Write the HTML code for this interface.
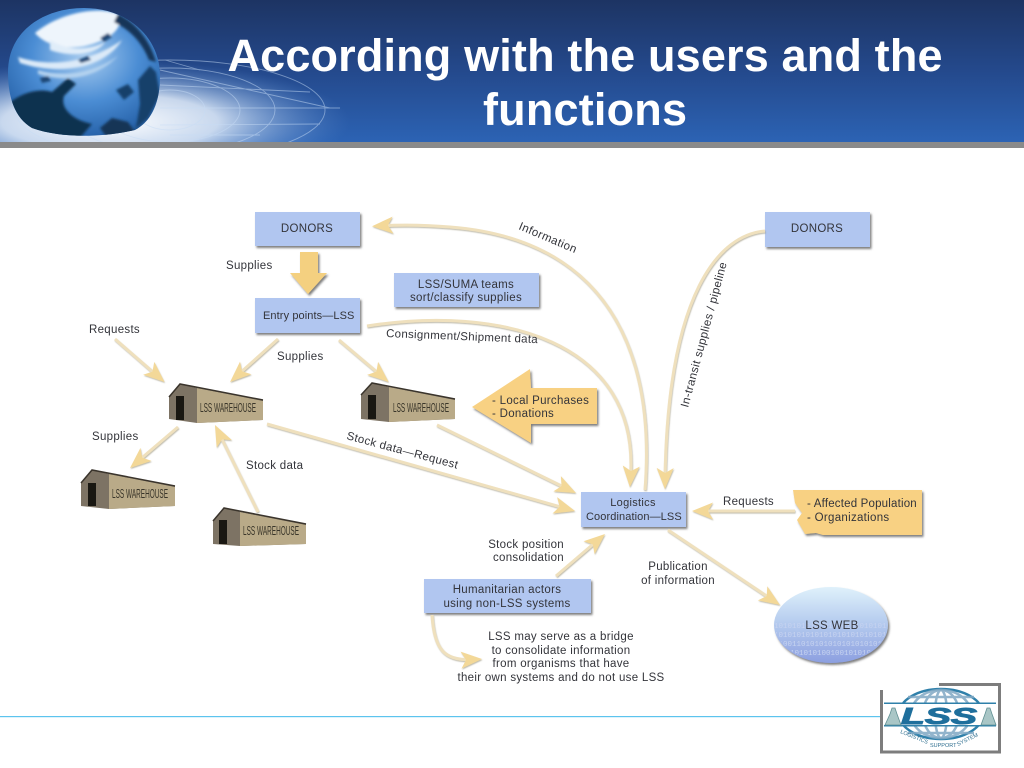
<!DOCTYPE html>
<html><head><meta charset="utf-8"><style>
html,body{margin:0;padding:0;background:#fff;width:1024px;height:768px;overflow:hidden}
svg{display:block}
text{font-family:"Liberation Sans",sans-serif}
.t{font-size:11.5px;fill:#33343a;letter-spacing:.3px}
.c{text-anchor:middle}
.w{font-size:12.5px;fill:#3a362a;text-anchor:middle}
.a path,.a line{fill:none;stroke:#efe0bd;stroke-width:3}
.h{font-size:45px;font-weight:bold;fill:#fff;text-anchor:middle}
</style></head><body>
<svg width="1024" height="768" viewBox="0 0 1024 768" xmlns="http://www.w3.org/2000/svg">
<defs>
<linearGradient id="hd" x1="0" y1="0" x2="0" y2="1"><stop offset="0" stop-color="#1d3463"/><stop offset=".5" stop-color="#24498c"/><stop offset="1" stop-color="#2c63b4"/></linearGradient>
<radialGradient id="glow" cx="0.5" cy="0.5" r="0.5"><stop offset="0" stop-color="#fff" stop-opacity="1"/><stop offset=".45" stop-color="#e4eefa" stop-opacity=".85"/><stop offset="1" stop-color="#5f8fd0" stop-opacity="0"/></radialGradient>
<radialGradient id="gl" cx=".5" cy=".4" r=".7"><stop offset="0" stop-color="#a9cdf0"/><stop offset=".45" stop-color="#4b8dd4"/><stop offset=".78" stop-color="#2a66ad"/><stop offset="1" stop-color="#123560"/></radialGradient>
<linearGradient id="web" x1="0" y1="0" x2="0" y2="1"><stop offset="0" stop-color="#dff1fb"/><stop offset=".45" stop-color="#b7cdef"/><stop offset="1" stop-color="#8c9fe0"/></linearGradient>
<filter id="b1" x="-20%" y="-20%" width="140%" height="140%"><feGaussianBlur stdDeviation="1.4"/></filter>
<filter id="sh" x="-10%" y="-10%" width="125%" height="130%"><feDropShadow dx="1.5" dy="2" stdDeviation="1" flood-color="#555" flood-opacity=".75"/></filter>
<filter id="as" x="-20%" y="-20%" width="140%" height="140%"><feDropShadow dx=".6" dy="1.1" stdDeviation=".5" flood-color="#8b8468" flood-opacity=".55"/></filter>
<marker id="m" markerUnits="userSpaceOnUse" markerWidth="26" markerHeight="26" refX="12" refY="13" orient="auto" viewBox="0 0 26 26"><path d="M22 13 L1 4.500 L6 13 L1 21.500 Z" fill="#f3d898"/></marker>
<clipPath id="ec"><ellipse cx="831" cy="625" rx="56" ry="37"/></clipPath>
<clipPath id="hc"><rect width="1024" height="142"/></clipPath>
<clipPath id="gc"><path d="M8 72 C8 30 45 8 84 8 C125 8 160 35 160 76 C160 105 150 122 135 130 C100 138 60 138 32 128 C15 118 8 98 8 72Z"/></clipPath>
<clipPath id="lc"><rect x="884" y="684" width="114" height="68"/></clipPath>
</defs>

<!-- header -->
<rect width="1024" height="142" fill="url(#hd)"/>
<g clip-path="url(#hc)">
<ellipse cx="110" cy="122" rx="240" ry="62" fill="url(#glow)"/>
<g fill="none" stroke="#c7dcf5" stroke-width=".9" opacity=".5">
<ellipse cx="170" cy="110" rx="155" ry="50"/><ellipse cx="170" cy="110" rx="105" ry="42"/><ellipse cx="170" cy="110" rx="70" ry="32"/><ellipse cx="170" cy="110" rx="35" ry="20"/>
<path d="M160 70 L330 108M160 108 L340 108M160 125 L320 124M160 85 L310 92M165 60 L200 70M170 135 L260 135"/>
</g>
</g>
<g clip-path="url(#gc)">
<rect x="0" y="0" width="170" height="142" fill="url(#gl)"/>
<g filter="url(#b1)">
<path d="M35 33 C60 12 100 6 118 14 C125 28 110 40 85 46 C65 50 45 45 35 33Z" fill="#eef5fc"/>
<path d="M50 40 C70 52 90 50 105 42 C98 54 72 58 50 50Z" fill="#e0edf9"/>
<path d="M18 57 C45 66 85 66 122 40 C105 68 60 76 20 63Z" fill="#dceaf8"/>
<path d="M38 70 C65 78 95 72 118 56 C98 76 70 84 38 74Z" fill="#b3d2ef"/>
<path d="M8 104 C22 92 40 88 52 92 L68 78 L76 84 L64 96 C60 108 72 120 92 124 L78 140 L24 136Z" fill="#10304f"/>
<path d="M100 128 L112 118 L128 122 L135 132 L110 142Z" fill="#133556"/>
<path d="M116 90 L128 84 L134 92 L124 100Z M138 80 L150 66 L156 72 L160 95 L148 118 L136 128 L140 104Z" fill="#17406b"/>
<path d="M118 14 C135 22 150 40 156 62 L149 60 C142 42 130 30 114 22Z" fill="#163658"/>
<path d="M40 78 l8 -2 l3 5 l-9 2z M78 60 l10 -4 l3 4 l-10 3z M100 38 l8 -5 l4 4 l-8 5z" fill="#1b4674"/>
</g>
</g>
<rect y="142" width="1024" height="6" fill="#8a8a8a"/>
<text class="h" x="585" y="71" textLength="715">According with the users and the</text>
<text class="h" x="585" y="125" textLength="204">functions</text>

<!-- bottom rule -->
<rect x="0" y="716" width="880" height="1.2" fill="#5cc4ee"/>

<!-- shapes with shadows -->
<g filter="url(#sh)" fill="#b1c6f0">
<rect x="255" y="212" width="105" height="34"/>
<rect x="255" y="298" width="105" height="35"/>
<rect x="394" y="273" width="145" height="34"/>
<rect x="765" y="212" width="105" height="35"/>
<rect x="581" y="492" width="105" height="35"/>
<rect x="424" y="579" width="167" height="34"/>
<path d="M472 407 L530 369 L531 388 L597 388 L597 424 L531 424 L531 443Z" fill="#f8d183"/>
<path d="M793 490 L922 490 L922 535 L823 535 L816 533 L805 534 L797 520 L802 513 L795 503Z" fill="#f8d183"/>
<path d="M300 252 H318 V273 H327 L308 294 L290 273 H300Z" fill="#f4d080"/>
<ellipse cx="831" cy="625" rx="57" ry="38" fill="url(#web)"/>
</g>
<g clip-path="url(#ec)" fill="#c6d3f0">
<text x="774" y="628" font-size="7.500" style="font-family:'Liberation Mono',monospace">1010101010101010101010101010</text>
<text x="774" y="637" font-size="7.500" style="font-family:'Liberation Mono',monospace">1010101010101010101010101010</text>
<text x="774" y="646" font-size="7.500" style="font-family:'Liberation Mono',monospace">0100110101010101010101010101</text>
<text x="790" y="655" font-size="7.500" style="font-family:'Liberation Mono',monospace">10101010010010101010</text>
</g>

<!-- arrows -->
<g class="a" filter="url(#as)">
<line x1="115" y1="339" x2="157" y2="375.500" marker-end="url(#m)"/>
<line x1="278" y1="339" x2="237.500" y2="375.300" marker-end="url(#m)"/>
<line x1="339" y1="340" x2="381" y2="375.500" marker-end="url(#m)"/>
<line x1="178" y1="427" x2="137.600" y2="461.500" marker-end="url(#m)"/>
<line x1="258" y1="512" x2="219.400" y2="434" marker-end="url(#m)"/>
<line x1="267" y1="424" x2="565.400" y2="508.300" marker-end="url(#m)"/>
<line x1="437" y1="425" x2="567" y2="488.600" marker-end="url(#m)"/>
<path d="M645 490 C652 400 640 242 450 227 Q415 224 382 225.700" marker-end="url(#m)"/>
<path d="M367 326 C500 305 640 340 630.500 477" marker-end="url(#m)"/>
<path d="M765 231 C720 235 668 290 665 479" marker-end="url(#m)"/>
<line x1="795" y1="511" x2="702" y2="511" marker-end="url(#m)"/>
<line x1="556" y1="576" x2="597.400" y2="540.500" marker-end="url(#m)"/>
<line x1="668" y1="530" x2="771.700" y2="599.400" marker-end="url(#m)"/>
<path d="M432 615 C434 650 445 661 472 659.500" marker-end="url(#m)"/>
</g>

<!-- warehouses -->
<g>
<g><path d="M169 397 L180 384 L197 388 L263 400 V420 L197 423 L169 419Z" fill="#7d7364"/><path d="M197 388 L263 401 V420 L197 423Z" fill="#b9aa88"/><path d="M169 397 L180 384 L263 400" fill="none" stroke="#3a342c" stroke-width="1.5"/><path d="M176 396 H184 V420 H176Z" fill="#191712"/><text class="w" x="228" y="412" textLength="56" lengthAdjust="spacingAndGlyphs">LSS WAREHOUSE</text></g>
<g><path d="M361 395 L372 383 L389 387 L455 399 V419 L389 422 L361 419Z" fill="#7d7364"/><path d="M389 387 L455 400 V419 L389 422Z" fill="#b9aa88"/><path d="M361 395 L372 383 L455 399" fill="none" stroke="#3a342c" stroke-width="1.500"/><path d="M368 395 H376 V419 H368Z" fill="#191712"/><text class="w" x="421" y="412" textLength="56" lengthAdjust="spacingAndGlyphs">LSS WAREHOUSE</text></g>
<g><path d="M81 483 L92 470 L109 474 L175 486 V506 L109 509 L81 506Z" fill="#7d7364"/><path d="M109 474 L175 487 V506 L109 509Z" fill="#b9aa88"/><path d="M81 483 L92 470 L175 486" fill="none" stroke="#3a342c" stroke-width="1.500"/><path d="M88 483 H96 V506 H88Z" fill="#191712"/><text class="w" x="140" y="498" textLength="56" lengthAdjust="spacingAndGlyphs">LSS WAREHOUSE</text></g>
<g><path d="M213 521 L224 508 L241 512 L306 524 V544 L240 546 L213 544Z" fill="#7d7364"/><path d="M240 512 L306 525 V544 L240 546Z" fill="#b9aa88"/><path d="M213 521 L224 508 L306 524" fill="none" stroke="#3a342c" stroke-width="1.500"/><path d="M219 520 H227 V544 H219Z" fill="#191712"/><text class="w" x="271" y="535" textLength="56" lengthAdjust="spacingAndGlyphs">LSS WAREHOUSE</text></g>
</g>

<!-- labels -->
<text class="t c" x="307" y="232">DONORS</text>
<text class="t c" x="817" y="232">DONORS</text>
<text class="t" x="226" y="269">Supplies</text>
<text class="t" x="263" y="319" style="font-size:11px;letter-spacing:.1px">Entry points—LSS</text>
<text class="t" x="89" y="333">Requests</text>
<text class="t" x="277" y="360">Supplies</text>
<text class="t c" x="466" y="288">LSS/SUMA teams</text>
<text class="t c" x="466" y="301">sort/classify supplies</text>
<text class="t" transform="translate(386 337) rotate(2.300)" textLength="152">Consignment/Shipment data</text>
<text class="t" transform="translate(518 229) rotate(23)" textLength="62">Information</text>
<text class="t" transform="translate(688 408) rotate(-75)" textLength="150">In-transit supplies / pipeline</text>
<text class="t" transform="translate(346 439) rotate(15)" textLength="115">Stock data—Request</text>
<text class="t" x="92" y="440">Supplies</text>
<text class="t" x="246" y="469">Stock data</text>
<text class="t" x="723" y="505">Requests</text>
<text class="t" x="492" y="404">- Local Purchases</text>
<text class="t" x="492" y="417">- Donations</text>
<text class="t" x="807" y="507" textLength="110">- Affected Population</text>
<text class="t" x="807" y="521">- Organizations</text>
<text class="t c" x="633" y="506" style="font-size:11px">Logistics</text>
<text class="t" x="586" y="520" style="font-size:11px;letter-spacing:.1px">Coordination—LSS</text>
<text class="t" x="564" y="548" text-anchor="end">Stock position</text>
<text class="t" x="564" y="561" text-anchor="end">consolidation</text>
<text class="t c" x="678" y="570">Publication</text>
<text class="t c" x="678" y="584">of information</text>
<text class="t c" x="507" y="593">Humanitarian actors</text>
<text class="t c" x="507" y="607">using non-LSS systems</text>
<text class="t c" x="561" y="640">LSS may serve as a bridge</text>
<text class="t c" x="561" y="654">to consolidate information</text>
<text class="t c" x="561" y="667">from organisms that have</text>
<text class="t c" x="561" y="681">their own systems and do not use LSS</text>
<text class="t c" x="832" y="629">LSS WEB</text>

<!-- logo -->
<rect x="880" y="690" width="121" height="63" fill="#fff"/>
<path d="M881.500 690 V752 H999.500 V684.500 H939" fill="none" stroke="#7d7d7d" stroke-width="3"/>
<g clip-path="url(#lc)">
<ellipse cx="941" cy="714" rx="42" ry="25" fill="#fff" stroke="#2f80aa" stroke-width="2.500"/>
<g fill="none" stroke="#7fa8c4" stroke-width="2.500" opacity=".85">
<ellipse cx="941" cy="714" rx="30" ry="24"/><ellipse cx="941" cy="714" rx="18" ry="24"/><ellipse cx="941" cy="714" rx="6" ry="24"/>
<path d="M908 697H974M908 733H974"/>
</g>
<rect x="884" y="702.500" width="112" height="1.500" fill="#2f80aa"/>
<rect x="884" y="725" width="112" height="1.500" fill="#2f80aa"/>
<rect x="884" y="704" width="112" height="21" fill="#fff"/>
<text x="939" y="724" text-anchor="middle" font-size="23" font-weight="bold" font-style="italic" fill="#1f6f9c" stroke="#1f6f9c" stroke-width="1" textLength="76" lengthAdjust="spacingAndGlyphs">LSS</text>
<path d="M885 725 L890 714 L892 708 L895 708 L897 714 L901 725Z M981 725 L985 714 L987 708 L990 708 L992 714 L996 725Z" fill="#a9c6c6" stroke="#5f8f92" stroke-width=".8"/>
<text font-size="5.500" fill="#2f6f90" transform="translate(900 733) rotate(22)">LOGISTICS</text>
<text font-size="5.500" fill="#2f6f90" x="930" y="747">SUPPORT</text>
<text font-size="5.500" fill="#2f6f90" transform="translate(958 746) rotate(-26)">SYSTEM</text>
</g>
</svg>
</body></html>
